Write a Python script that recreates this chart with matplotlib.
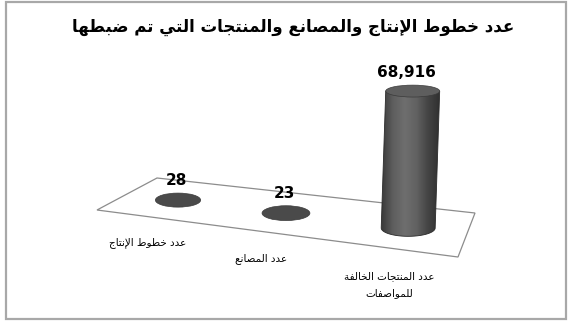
import numpy as np
import matplotlib
matplotlib.use("Agg")
import matplotlib.pyplot as plt
from matplotlib.patches import Ellipse, Polygon, Rectangle, PathPatch
from matplotlib.path import Path
from matplotlib.colors import LinearSegmentedColormap

# ---- data ----
title = "عدد خطوط الإنتاج والمصانع والمنتجات التي تم ضبطها"
categories = ["عدد خطوط الإنتاج", "عدد المصانع", "عدد المنتجات الخالفة\nللمواصفات"]
values = [28, 23, 68916]
value_labels = ["28", "23", "68,916"]

# ---- minimal Arabic shaping (presentation forms + right-to-left order) ----
FORMS = {
    'ا': (0xFE8D, 0xFE8E, None, None),
    'إ': (0xFE87, 0xFE88, None, None),
    'ب': (0xFE8F, 0xFE90, 0xFE91, 0xFE92),
    'ة': (0xFE93, 0xFE94, None, None),
    'ت': (0xFE95, 0xFE96, 0xFE97, 0xFE98),
    'ج': (0xFE9D, 0xFE9E, 0xFE9F, 0xFEA0),
    'خ': (0xFEA5, 0xFEA6, 0xFEA7, 0xFEA8),
    'د': (0xFEA9, 0xFEAA, None, None),
    'ص': (0xFEB9, 0xFEBA, 0xFEBB, 0xFEBC),
    'ض': (0xFEBD, 0xFEBE, 0xFEBF, 0xFEC0),
    'ط': (0xFEC1, 0xFEC2, 0xFEC3, 0xFEC4),
    'ع': (0xFEC9, 0xFECA, 0xFECB, 0xFECC),
    'ف': (0xFED1, 0xFED2, 0xFED3, 0xFED4),
    'ل': (0xFEDD, 0xFEDE, 0xFEDF, 0xFEE0),
    'م': (0xFEE1, 0xFEE2, 0xFEE3, 0xFEE4),
    'ن': (0xFEE5, 0xFEE6, 0xFEE7, 0xFEE8),
    'ه': (0xFEE9, 0xFEEA, 0xFEEB, 0xFEEC),
    'و': (0xFEED, 0xFEEE, None, None),
    'ي': (0xFEF1, 0xFEF2, 0xFEF3, 0xFEF4),
}
LAM_ALEF = {'ا': (0xFEFB, 0xFEFC), 'إ': (0xFEF9, 0xFEFA)}


def _joins_left(c):
    return c in FORMS and FORMS[c][2] is not None


def shape_line(text):
    out = []
    n = len(text)
    i = 0
    while i < n:
        c = text[i]
        if c not in FORMS:
            out.append(c)
            i += 1
            continue
        prev = text[i - 1] if i > 0 else None
        connect_prev = prev is not None and _joins_left(prev)
        if c == 'ل' and i + 1 < n and text[i + 1] in LAM_ALEF:
            iso, fin = LAM_ALEF[text[i + 1]]
            out.append(chr(fin if connect_prev else iso))
            i += 2
            continue
        nxt = text[i + 1] if i + 1 < n else None
        connect_next = _joins_left(c) and nxt in FORMS
        iso, fin, ini, med = FORMS[c]
        if connect_prev and connect_next:
            g = med
        elif connect_prev:
            g = fin
        elif connect_next:
            g = ini
        else:
            g = iso
        out.append(chr(g))
        i += 1
    return "".join(reversed(out))


def shape(text):
    return "\n".join(shape_line(line) for line in text.split("\n"))


# ---- figure ----
W, H = 570, 321
fig = plt.figure(figsize=(W / 100, H / 100), dpi=100)
ax = fig.add_axes([0, 0, 1, 1])
ax.set_xlim(0, W)
ax.set_ylim(H, 0)
ax.axis("off")

# chart border
ax.add_patch(Rectangle((6, 2), 560, 317, fill=False, edgecolor="#a8a8a8", lw=1.6))

# title
ax.text(293, 27, shape(title), ha="center", va="center", fontsize=12,
        fontweight="bold", family="DejaVu Sans", color="black")

# floor (perspective plane): front-left, front-right, back-right, back-left
floor = np.array([[97, 210], [458, 257], [475, 213], [157, 178]], dtype=float)
ax.add_patch(Polygon(floor, closed=True, facecolor="white",
                     edgecolor="#8c8c8c", lw=0.9, zorder=1))

# depth midline of the floor
mid_left = (floor[0] + floor[3]) / 2
mid_right = (floor[1] + floor[2]) / 2

# value scale: pixels of height per unit
V_MAX = 72000.0
PX_FULL = 143.0


def floor_point(i, n):
    u = (i + 0.5) / n
    t = 0.007 + 0.828 * u + 0.189 * u * u
    return mid_left + t * (mid_right - mid_left), t


body_cmap = LinearSegmentedColormap.from_list(
    "body", ["#383838", "#5e5e5e", "#6e6e6e", "#626262", "#444444", "#303030"])

n = len(values)
for i, (val, lab, cat) in enumerate(zip(values, value_labels, categories)):
    (bx, by), t = floor_point(i, n)
    w = 45 * (1 + 0.29 * t * t)
    hb = 0.31 * w
    height = val / V_MAX * PX_FULL
    lean = 0.033 * height
    tx, ty = bx + lean, by - height
    ht = hb * (1 - 0.3 * height / PX_FULL)
    a = w / 2

    if height > 1:
        theta = np.linspace(np.pi, 0, 60)
        arc = np.column_stack([bx + a * np.cos(theta), by + hb / 2 * np.sin(theta)])
        verts = np.vstack([[tx - a, ty], arc, [tx + a, ty], [tx - a, ty]])
        body = PathPatch(Path(verts, closed=True), facecolor="none",
                         edgecolor="#2a2a2a", lw=0.6, zorder=3)
        ax.add_patch(body)
        grad = np.linspace(0, 1, 200)[None, :]
        im = ax.imshow(grad, cmap=body_cmap, aspect="auto",
                       extent=(min(tx, bx) - a, max(tx, bx) + a, by + hb, ty),
                       zorder=2, interpolation="bilinear")
        im.set_clip_path(body)
        top_color = "#5e5e5e"
    else:
        top_color = "#4a4a4a"

    ax.add_patch(Ellipse((tx, ty), w, ht, facecolor=top_color,
                         edgecolor="#3a3a3a", lw=0.5, zorder=4))

    # value label above the bar
    ax.text(bx - 2, ty - ht / 2 - 8, lab, ha="center", va="baseline",
            fontsize=11, fontweight="bold", color="black", zorder=5)

    # category label in front of the floor
    ax.text(bx - 33 + 17 * t, by + 36 + 8 * t, shape(cat), ha="center", va="top",
            fontsize=7.5, family="DejaVu Sans", color="black",
            linespacing=1.9, zorder=5)

fig.savefig("out.png", dpi=100)
